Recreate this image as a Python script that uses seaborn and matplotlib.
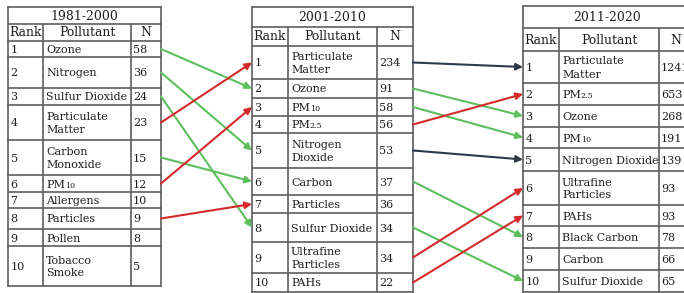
import numpy as np
import pandas as pd
import matplotlib
matplotlib.use("Agg")
import matplotlib.pyplot as plt
import seaborn as sns

# ---------------- data ----------------
periods = ["1981-2000", "2001-2010", "2011-2020"]
ranks = list(range(1, 11))

t1_pollutant = ["Ozone", "Nitrogen", "Sulfur Dioxide", "Particulate\nMatter",
                "Carbon\nMonoxide", "PM|10", "Allergens", "Particles", "Pollen",
                "Tobacco\nSmoke"]
t1_n = [58, 36, 24, 23, 15, 12, 10, 9, 8, 5]

t2_pollutant = ["Particulate\nMatter", "Ozone", "PM|10", "PM|2.5", "Nitrogen\nDioxide",
                "Carbon", "Particles", "Sulfur Dioxide", "Ultrafine\nParticles", "PAHs"]
t2_n = [234, 91, 58, 56, 53, 37, 36, 34, 34, 22]

t3_pollutant = ["Particulate\nMatter", "PM|2.5", "Ozone", "PM|10", "Nitrogen Dioxide",
                "Ultrafine\nParticles", "PAHs", "Black Carbon", "Carbon", "Sulfur Dioxide"]
t3_n = [1241, 653, 268, 191, 139, 93, 93, 78, 66, 65]

# rank transitions (from rank, to rank, kind)
links_12_from = [1, 2, 3, 4, 5, 6, 8]
links_12_to = [2, 5, 8, 1, 6, 3, 7]
links_12_kind = ["down", "down", "down", "up", "down", "up", "up"]

links_23_from = [1, 2, 3, 4, 5, 6, 8, 9, 10]
links_23_to = [1, 3, 4, 2, 5, 8, 10, 6, 7]
links_23_kind = ["same", "down", "down", "up", "same", "down", "down", "up", "up"]

# ---------------- layout (pixel space) ----------------
W, H = 684, 293
tables_x = [[8, 43, 131, 161], [252, 288, 377, 413], [523, 559, 659, 692]]
tables_y = [
    [7, 24, 41, 57, 88, 105, 140, 175, 192, 208, 229, 246, 286],
    [7, 27, 46, 79, 98, 116, 133, 168, 195, 213, 242, 273, 292],
    [6, 28, 51, 83, 105, 127, 148, 171, 205, 226, 248, 270, 292],
]
palette = {"down": "#5cbf5c", "up": "#d42a2a", "same": "#2e3a4a"}
grid_c = "#5e5e5e"
txt_c = "#1e1e1e"
body_fs = 8
head_fs = 8.9

sns.set_theme(style="white")
plt.rcParams["font.family"] = ["DejaVu Serif"]

fig = plt.figure(figsize=(W / 100, H / 100), dpi=100)
ax = fig.add_axes([0, 0, 1, 1])
ax.set_xlim(0, W)
ax.set_ylim(H, 0)

renderer = fig.canvas.get_renderer()


def put_label(x, y, s, fs):
    if "|" in s:
        main, sub = s.split("|")
        t = ax.text(x, y, main, fontsize=fs, color=txt_c, va="baseline", ha="left")
        bb = t.get_window_extent(renderer=renderer)
        inv = ax.transData.inverted()
        x2 = inv.transform((bb.x1, bb.y0))[0]
        ax.text(x2, y, sub, fontsize=fs * 0.72, color=txt_c, va="baseline", ha="left")
    else:
        ax.text(x, y, s, fontsize=fs, color=txt_c, va="baseline", ha="left")


def draw_table(xs, ys, title, pollutants, ns):
    lw = 1.2
    for yy in ys:
        ax.plot([xs[0], xs[-1]], [yy, yy], color=grid_c, lw=lw, solid_capstyle="projecting")
    ax.plot([xs[0], xs[0]], [ys[0], ys[-1]], color=grid_c, lw=lw)
    ax.plot([xs[-1], xs[-1]], [ys[0], ys[-1]], color=grid_c, lw=lw)
    for xx in xs[1:-1]:
        ax.plot([xx, xx], [ys[1], ys[-1]], color=grid_c, lw=lw)
    ax.text((xs[0] + xs[-1]) / 2, (ys[0] + ys[1]) / 2 + 0.5, title, fontsize=head_fs,
            color=txt_c, ha="center", va="center")
    hy = (ys[1] + ys[2]) / 2 + 0.5
    for k, h in enumerate(["Rank", "Pollutant", "N"]):
        ax.text((xs[k] + xs[k + 1]) / 2, hy, h, fontsize=head_fs, color=txt_c,
                ha="center", va="center")
    for i, (p, n) in enumerate(zip(pollutants, ns)):
        yc = (ys[i + 2] + ys[i + 3]) / 2
        ax.text(xs[0] + 2.5, yc + 4, str(ranks[i]), fontsize=body_fs, color=txt_c,
                va="baseline")
        ax.text(xs[2] + 2, yc + 4, str(n), fontsize=body_fs, color=txt_c, va="baseline")
        if "\n" not in p:
            put_label(xs[1] + 3, yc + 4, p, body_fs)
        else:
            l1, l2 = p.split("\n")
            put_label(xs[1] + 3, yc - 2.5, l1, body_fs)
            put_label(xs[1] + 3, yc + 10.5, l2, body_fs)


for t in range(3):
    draw_table(tables_x[t], tables_y[t], periods[t],
               [t1_pollutant, t2_pollutant, t3_pollutant][t], [t1_n, t2_n, t3_n][t])


def row_center(t, r):
    ys = tables_y[t]
    return (ys[r + 1] + ys[r + 2]) / 2


rows = []
lid = 0
for (ta, tb, fr, to, kd) in [(0, 1, links_12_from, links_12_to, links_12_kind),
                             (1, 2, links_23_from, links_23_to, links_23_kind)]:
    for a, b, k in zip(fr, to, kd):
        rows.append(dict(link=lid, x=tables_x[ta][-1], y=row_center(ta, a), kind=k))
        rows.append(dict(link=lid, x=tables_x[tb][0] - 6, y=None, kind=k,
                         xe=tables_x[tb][0], ye=row_center(tb, b)))
        lid += 1
links = pd.DataFrame(rows)
# put the shaft end on the straight line toward the arrow tip
for lk, g in links.groupby("link"):
    i0, i1 = g.index
    x0, y0 = links.at[i0, "x"], links.at[i0, "y"]
    x1, y1 = links.at[i1, "xe"], links.at[i1, "ye"]
    xm = links.at[i1, "x"]
    links.at[i1, "y"] = y0 + (y1 - y0) * (xm - x0) / (x1 - x0)
links["y"] = links["y"].astype(float)

sns.lineplot(data=links, x="x", y="y", units="link", hue="kind", estimator=None,
             sort=False, palette=palette, legend=False, lw=1.5, ax=ax)

for lk, g in links.groupby("link"):
    s, e = g.iloc[0], g.iloc[1]
    ax.annotate("", xy=(e["xe"], e["ye"]), xytext=(e["x"], e["y"]),
                arrowprops=dict(arrowstyle="-|>", color=palette[s["kind"]], lw=1.5,
                                mutation_scale=10, shrinkA=0, shrinkB=0))

ax.set_xlim(0, W)
ax.set_ylim(H, 0)
ax.axis("off")
fig.savefig("out.png", dpi=100, facecolor="white")
